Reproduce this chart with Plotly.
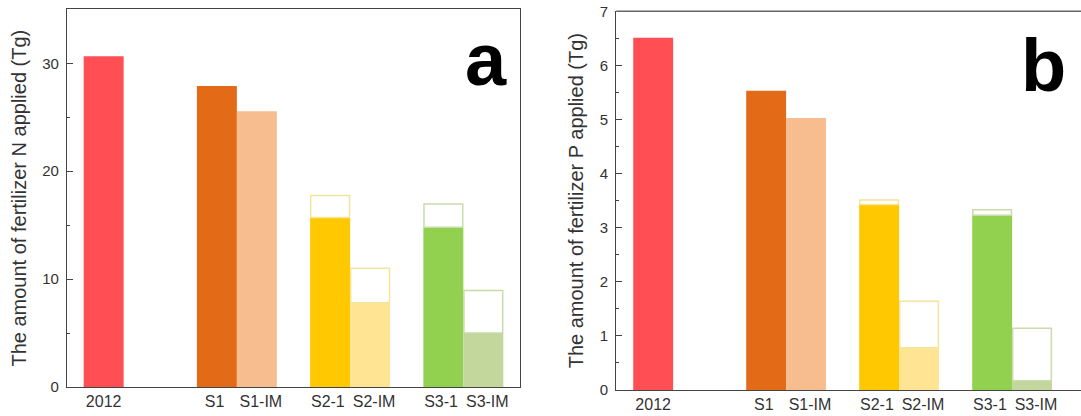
import plotly.graph_objects as go

categories = ["2012", "S1", "S1-IM", "S2-1", "S2-IM", "S3-1", "S3-IM"]
group_index = [0, 1, 1, 2, 2, 3, 3]
side = [-1, -1, 1, -1, 1, -1, 1]

N_applied = [30.65, 27.9, 25.55, 15.7, 7.8, 14.8, 5.0]
N_total = [None, None, None, 17.75, 11.0, 16.95, 8.95]
P_applied = [6.51, 5.53, 5.03, 3.43, 0.78, 3.23, 0.17]
P_total = [None, None, None, 3.51, 1.64, 3.33, 1.14]

bar_colors = ["#FF4F55", "#E36A17", "#F8BD8F", "#FFC800", "#FFE593", "#92D050", "#C3D69B"]
outline_colors = ["rgba(0,0,0,0)"] * 3 + ["#F3E59C", "#F3E59C", "#C9DCAA", "#C9DCAA"]

W = 0.353
xpos = [g + s * W / 2 for g, s in zip(group_index, side)]
# tick labels sit slightly apart inside each pair
label_pos = [x if g == 0 else x + (0.035 if s > 0 else -0.02)
             for x, g, s in zip(xpos, group_index, side)]

fig = go.Figure()

def add_panel(vals, totals, xa, ya):
    fig.add_trace(go.Bar(x=xpos, y=vals, width=W, marker=dict(color=bar_colors, line=dict(width=0)),
                         xaxis=xa, yaxis=ya, showlegend=False, hoverinfo="skip"))
    idx = [i for i, t in enumerate(totals) if t is not None]
    fig.add_trace(go.Bar(x=[xpos[i] for i in idx],
                         y=[totals[i] - vals[i] for i in idx],
                         base=[vals[i] for i in idx],
                         width=W * 0.97,
                         marker=dict(color="rgba(255,255,255,0)",
                                     line=dict(color=[outline_colors[i] for i in idx], width=1.5)),
                         xaxis=xa, yaxis=ya, showlegend=False, hoverinfo="skip"))

add_panel(N_applied, N_total, "x", "y")
add_panel(P_applied, P_total, "x2", "y2")

FAM = "Liberation Sans, Arial, sans-serif"
xfont = dict(family=FAM, size=16, color="#333333")
yfont = dict(family=FAM, size=15, color="#333333")
title_font = dict(family=FAM, size=20, color="#333333")
axis_common = dict(showgrid=False, zeroline=False, showline=True, linecolor="#444444", linewidth=1.3,
                   automargin=False)

fig.update_layout(
    width=1081, height=416,
    margin=dict(l=0, r=0, t=0, b=0),
    paper_bgcolor="white", plot_bgcolor="white",
    barmode="overlay",
    xaxis=dict(domain=[0.062, 0.481], range=[-0.5, 3.5], anchor="y", tickfont=xfont, tickangle=0,
               tickvals=label_pos, ticktext=categories, ticks="", mirror=True, **axis_common),
    yaxis=dict(domain=[0.0697, 0.9776], range=[0, 35], anchor="x", tickfont=yfont,
               tickvals=[0, 10, 20, 30], ticks="inside", ticklen=6, tickcolor="#444444",
               minor=dict(tickvals=[5, 15, 25], ticks="inside", ticklen=3, tickcolor="#444444"),
               ticklabelstandoff=4, mirror=True,
               title=dict(text="The amount of fertilizer N applied (Tg)", font=title_font, standoff=10),
               **axis_common),
    xaxis2=dict(domain=[0.570, 1.0], range=[-0.504, 3.61], anchor="y2", tickfont=xfont, tickangle=0,
                tickvals=label_pos, ticktext=categories, ticks="", **axis_common),
    yaxis2=dict(domain=[0.0625, 0.9728], range=[0, 7], anchor="x2", tickfont=yfont,
                tickvals=list(range(8)), ticks="inside", ticklen=6, tickcolor="#444444",
                minor=dict(tickvals=[0.5, 1.5, 2.5, 3.5, 4.5, 5.5, 6.5], ticks="inside", ticklen=3,
                           tickcolor="#444444"),
                ticklabelstandoff=4,
                title=dict(text="The amount of fertilizer P applied (Tg)", font=title_font, standoff=10),
                **axis_common),
)

# top border of panel b (right border lies outside the image)
fig.add_shape(type="line", xref="x2 domain", yref="y2 domain", x0=0, x1=1, y0=1, y1=1,
              line=dict(color="#666666", width=1.5))

bold = dict(family=FAM, size=74, color="black")
fig.add_annotation(text="<b>a</b>", xref="x domain", yref="y domain", x=0.925, y=0.868,
                   xanchor="center", yanchor="middle", showarrow=False, font=bold)
fig.add_annotation(text="<b>b</b>", xref="x2 domain", yref="y2 domain", x=0.92, y=0.856,
                   xanchor="center", yanchor="middle", showarrow=False, font=bold)

fig.write_html("out.html", config={"displayModeBar": False},
               post_script="document.body.style.margin='0';document.body.style.overflow='hidden';")
